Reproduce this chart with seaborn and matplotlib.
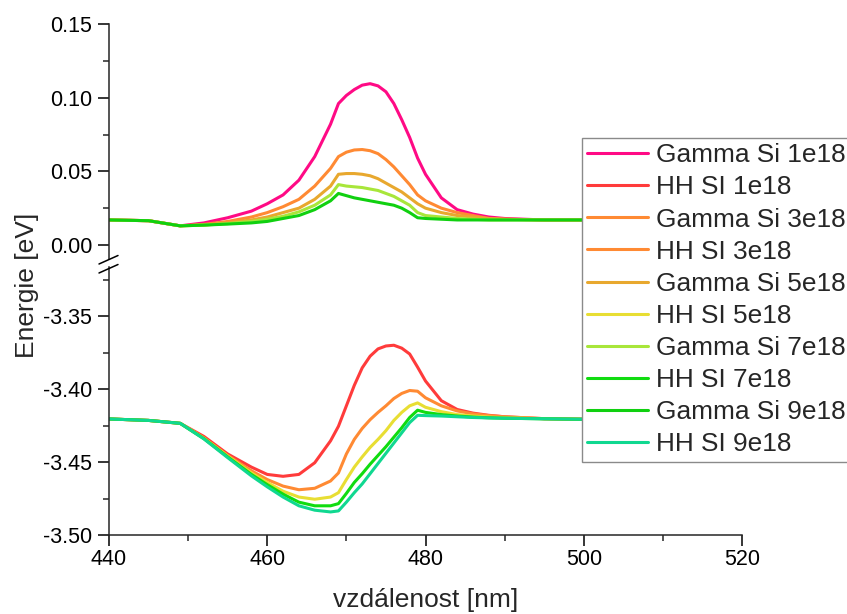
import matplotlib
matplotlib.use("Agg")
import matplotlib.pyplot as plt
from matplotlib.lines import Line2D
from matplotlib.ticker import MultipleLocator, FormatStrFormatter
import seaborn as sns

# position along the structure [nm]
vzdalenost = [440, 445, 449, 452, 455, 458, 460, 462, 464, 466, 468, 469, 470, 471, 472,
              473, 474, 475, 476, 477, 478, 479, 480, 482, 484, 486, 488, 490, 495, 500]

# conduction band (Gamma) energies [eV]
gamma_1e18 = [0.017, 0.0165, 0.013, 0.015, 0.0185, 0.023, 0.028, 0.034, 0.044, 0.060, 0.082, 0.096,
              0.1015, 0.1055, 0.1085, 0.1095, 0.108, 0.104, 0.096, 0.085, 0.073, 0.059, 0.048, 0.032,
              0.024, 0.021, 0.019, 0.018, 0.017, 0.017]
gamma_3e18 = [0.017, 0.0165, 0.013, 0.014, 0.016, 0.019, 0.022, 0.026, 0.031, 0.040, 0.052, 0.060,
              0.063, 0.0645, 0.0648, 0.064, 0.062, 0.058, 0.053, 0.047, 0.041, 0.034, 0.030, 0.025,
              0.022, 0.020, 0.018, 0.0175, 0.017, 0.017]
gamma_5e18 = [0.017, 0.0165, 0.013, 0.0135, 0.015, 0.017, 0.019, 0.022, 0.025, 0.031, 0.040, 0.048,
              0.0485, 0.0485, 0.048, 0.047, 0.045, 0.042, 0.039, 0.036, 0.032, 0.028, 0.025, 0.022,
              0.020, 0.019, 0.018, 0.0175, 0.017, 0.017]
gamma_7e18 = [0.017, 0.0165, 0.013, 0.0135, 0.0145, 0.016, 0.0175, 0.0195, 0.0225, 0.027, 0.034, 0.041,
              0.040, 0.0395, 0.039, 0.038, 0.037, 0.035, 0.033, 0.030, 0.027, 0.022, 0.020, 0.019,
              0.018, 0.0175, 0.017, 0.017, 0.017, 0.017]
gamma_9e18 = [0.017, 0.0165, 0.013, 0.0135, 0.0142, 0.015, 0.016, 0.018, 0.020, 0.024, 0.030, 0.035,
              0.0335, 0.032, 0.031, 0.030, 0.029, 0.028, 0.027, 0.025, 0.022, 0.0185, 0.018, 0.0175,
              0.017, 0.017, 0.017, 0.017, 0.017, 0.017]

# valence band (heavy hole) energies [eV]
hh_1e18 = [-3.4205, -3.4215, -3.4235, -3.4325, -3.4445, -3.4535, -3.4585, -3.4598, -3.4585, -3.4505,
           -3.4355, -3.4255, -3.4115, -3.3975, -3.3855, -3.3775, -3.3725, -3.3705, -3.3700, -3.3720,
           -3.3760, -3.3850, -3.3945, -3.4080, -3.4140, -3.4165, -3.4180, -3.4190, -3.4203, -3.4207]
hh_3e18 = [-3.4205, -3.4215, -3.4235, -3.4335, -3.4455, -3.4560, -3.4620, -3.4665, -3.4690, -3.4680,
           -3.4630, -3.4575, -3.4445, -3.4345, -3.4270, -3.4210, -3.4160, -3.4115, -3.4065, -3.4030,
           -3.4010, -3.4015, -3.4060, -3.4115, -3.4150, -3.4170, -3.4182, -3.4190, -3.4203, -3.4207]
hh_5e18 = [-3.4205, -3.4215, -3.4235, -3.4338, -3.4460, -3.4575, -3.4640, -3.4700, -3.4740, -3.4755,
           -3.4740, -3.4710, -3.4620, -3.4535, -3.4465, -3.4400, -3.4345, -3.4285, -3.4215, -3.4160,
           -3.4115, -3.4095, -3.4125, -3.4155, -3.4175, -3.4185, -3.4192, -3.4197, -3.4203, -3.4207]
hh_7e18 = [-3.4205, -3.4215, -3.4235, -3.4340, -3.4465, -3.4585, -3.4655, -3.4720, -3.4775, -3.4800,
           -3.4800, -3.4785, -3.4715, -3.4640, -3.4580, -3.4515, -3.4455, -3.4395, -3.4330, -3.4265,
           -3.4195, -3.4145, -3.4160, -3.4175, -3.4185, -3.4192, -3.4197, -3.4200, -3.4204, -3.4207]
hh_9e18 = [-3.4205, -3.4215, -3.4235, -3.4342, -3.4470, -3.4595, -3.4670, -3.4740, -3.4800, -3.4830,
           -3.4842, -3.4835, -3.4775, -3.4710, -3.4650, -3.4580, -3.4510, -3.4440, -3.4370, -3.4300,
           -3.4230, -3.4180, -3.4182, -3.4185, -3.4190, -3.4195, -3.4198, -3.4200, -3.4204, -3.4207]

labels = ["Gamma Si 1e18", "HH SI 1e18", "Gamma Si 3e18", "HH SI 3e18", "Gamma Si 5e18",
          "HH SI 5e18", "Gamma Si 7e18", "HH SI 7e18", "Gamma Si 9e18", "HH SI 9e18"]
colors = ["#FF0A85", "#FF3B3B", "#FF8A33", "#FF8A33", "#E8A82E",
          "#E8DE33", "#A8E63A", "#10DC10", "#10D010", "#10D890"]
series = [gamma_1e18, hh_1e18, gamma_3e18, hh_3e18, gamma_5e18,
          hh_5e18, gamma_7e18, hh_7e18, gamma_9e18, hh_9e18]

sns.set_style("ticks")
plt.rcParams["font.family"] = ["Liberation Sans", "DejaVu Sans"]
plt.rcParams["axes.unicode_minus"] = False

W, H = 847, 614
fig = plt.figure(figsize=(W / 100, H / 100), dpi=100)

left, right = 109 / W, 742 / W
ax_top = fig.add_axes([left, 1 - 259 / H, right - left, (259 - 24) / H])
ax_bot = fig.add_axes([left, 1 - 535 / H, right - left, (535 - 267) / H])

for lab, vals, col in zip(labels, series, colors):
    ax = ax_top if lab.startswith("Gamma") else ax_bot
    sns.lineplot(x=vzdalenost, y=vals, ax=ax, color=col, linewidth=2.2,
                 label=lab, legend=False, sort=False)

ax_top.set_ylim(-0.0095, 0.15)
ax_bot.set_ylim(-3.50, -3.3164)
for ax in (ax_top, ax_bot):
    ax.set_xlim(440, 520)
    ax.set_xlabel("")
    ax.set_ylabel("")
    sns.despine(ax=ax)
    ax.spines["left"].set_linewidth(1.1)
    ax.spines["bottom"].set_linewidth(1.1)
    ax.tick_params(axis="both", which="major", length=8, width=1.1, labelsize=15.5,
                   direction="out", color="black", labelcolor="black")
    ax.tick_params(axis="both", which="minor", length=4, width=1.1, direction="out")
    ax.tick_params(axis="y", pad=4)
    ax.tick_params(axis="x", pad=2)
    ax.xaxis.set_major_locator(MultipleLocator(20))
    ax.xaxis.set_minor_locator(MultipleLocator(10))
    ax.yaxis.set_major_locator(MultipleLocator(0.05))
    ax.yaxis.set_minor_locator(MultipleLocator(0.025))
    ax.yaxis.set_major_formatter(FormatStrFormatter("%.2f"))
    ax.set_facecolor("white")

ax_top.spines["bottom"].set_visible(False)
ax_top.tick_params(axis="x", which="both", bottom=False, labelbottom=False)

# break marks on the y axis
for y0 in (264, 273):
    fig.add_artist(Line2D([99 / W, 118 / W], [1 - y0 / H, 1 - (y0 - 8.5) / H],
                          color="black", linewidth=1.1, transform=fig.transFigure))

fig.text(27 / W, 1 - 285 / H, "Energie [eV]", rotation=90, ha="center", va="center",
         fontsize=19)
fig.text(425.5 / W, 1 - 600 / H, "vzdálenost [nm]", ha="center", va="center", fontsize=19)

handles = {}
for ax in (ax_top, ax_bot):
    for h, l in zip(*ax.get_legend_handles_labels()):
        handles[l] = h
leg = fig.legend([handles[l] for l in labels], labels, loc="upper left",
                 bbox_to_anchor=(582 / W, 1 - 138 / H), bbox_transform=fig.transFigure,
                 frameon=True, fancybox=False, framealpha=1, edgecolor="#8a8a8a",
                 fontsize=18.9, handlelength=2.3, handletextpad=0.3, labelspacing=0.31,
                 borderpad=0.2, borderaxespad=0)
leg.get_frame().set_linewidth(1.0)

fig.savefig("out.png", dpi=100)
